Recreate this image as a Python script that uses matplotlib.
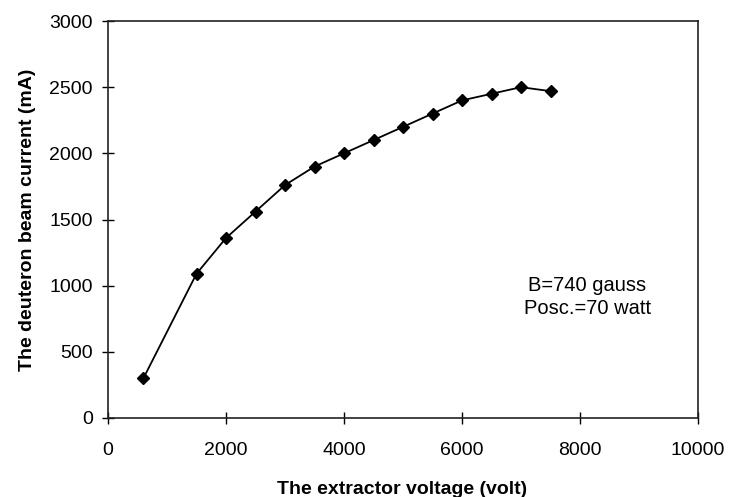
import matplotlib
matplotlib.use("Agg")
import matplotlib.pyplot as plt

# Deuteron beam current vs. extractor voltage
voltage = [600, 1500, 2000, 2500, 3000, 3500, 4000, 4500, 5000, 5500, 6000, 6500, 7000, 7500]
current = [300, 1090, 1360, 1560, 1760, 1900, 2000, 2100, 2200, 2300, 2400, 2450, 2500, 2470]

x_ticks = [0, 2000, 4000, 6000, 8000, 10000]
y_ticks = [0, 500, 1000, 1500, 2000, 2500, 3000]

plt.rcParams['font.family'] = ['Liberation Sans', 'DejaVu Sans']

fig = plt.figure(figsize=(7.29, 4.97), dpi=100)
ax = fig.add_axes([108 / 729, 79 / 497, 590 / 729, 397 / 497])

ax.plot(voltage, current, color='black', linewidth=1.3, marker='D',
        markersize=6.5, markerfacecolor='black', markeredgecolor='black')

ax.set_xlim(0, 10000)
ax.set_ylim(0, 3000)
ax.set_xticks(x_ticks)
ax.set_yticks(y_ticks)
ax.tick_params(direction='inout', length=8, width=1, labelsize=14)
ax.tick_params(axis='x', pad=13)
ax.tick_params(axis='y', pad=7)
for s in ax.spines.values():
    s.set_linewidth(1.2)
    s.set_color('#222222')

ax.set_xlabel('The extractor voltage (volt)', fontsize=14, fontweight='bold')
ax.set_ylabel('The deuteron beam current (mA)', fontsize=14, fontweight='bold')
ax.xaxis.set_label_coords(294 / 590, -63 / 397)
ax.yaxis.set_label_coords(-72 / 590, 0.5)

ax.text(8120, 915, 'B=740 gauss\nPosc.=70 watt', fontsize=14.5, ha='center', va='center',
        linespacing=1.25)

fig.savefig('out.png', dpi=100, facecolor='white')
